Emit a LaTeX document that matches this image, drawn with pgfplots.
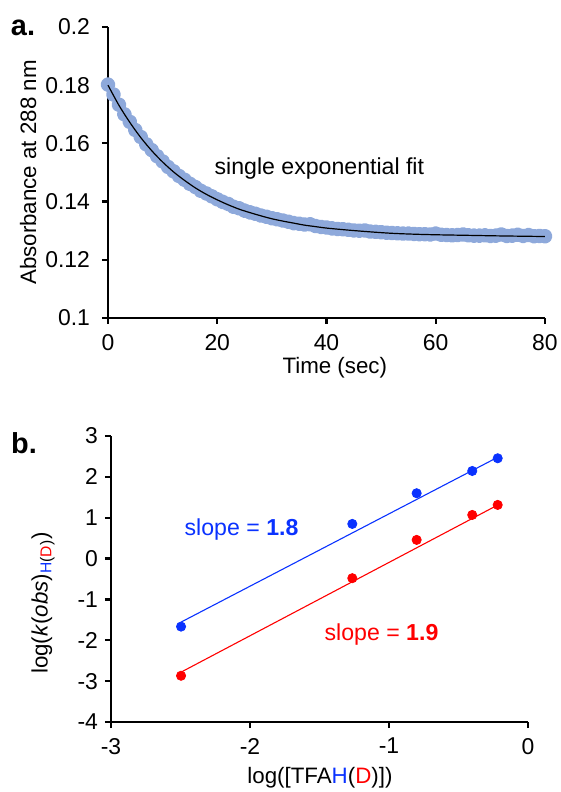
\documentclass[border=0pt]{standalone}
\usepackage{fontspec}
\setmainfont{Liberation Sans}
\usepackage{pgfplots}
\pgfplotsset{compat=1.18}
\definecolor{datablue}{RGB}{142,169,219}
\definecolor{hblue}{RGB}{10,50,255}
\definecolor{dred}{RGB}{255,0,0}
\pgfplotsset{
  panel/.style={
    scale only axis, axis lines=left, axis line style={line width=1.2bp,-},
    tick style={line width=1.1bp,black}, tick align=outside, major tick length=3bp,
    enlargelimits=false, clip=false, clip marker paths=true,
    tick label style={font=\fontsize{11.5}{13}\selectfont},
    xticklabel style={yshift=-1.5bp},
    label style={font=\fontsize{11.2}{13}\selectfont},
  },
}
\begin{document}
\begin{tikzpicture}
\path[use as bounding box] (0,0) rectangle (280.5bp,396bp);

% a. absorbance trace
\begin{axis}[panel, at={(54bp,237bp)}, anchor=south west,
  width=218.5bp, height=145.5bp,
  xmin=0, xmax=80, ymin=0.1, ymax=0.2,
  xtick={0,20,40,60,80}, xticklabels={0,20,40,60,80},
  ytick={0.1,0.12,0.14,0.16,0.18,0.2},
  yticklabels={0.1,0.12,0.14,0.16,0.18,0.2},
  yticklabel style={xshift=-2.5bp},
  xlabel={Time (sec)}, ylabel={Absorbance at 288 nm},
  xlabel style={at={(axis description cs:0.519,-0.172)}, anchor=center},
  ylabel style={at={(axis description cs:-0.183,0.5)}, anchor=center},
]
\addplot[datablue, line width=3.4bp, line join=round, line cap=round,
  mark=*, mark size=2bp, mark options={draw=none, fill=datablue}] coordinates {
(0,0.1802)(1,0.1768)(2,0.1733)(3,0.1700)(4,0.1674)(5,0.1646)(6,0.1622)(7,0.1597)
(8,0.1577)(9,0.1556)(10,0.1538)(11,0.1519)(12,0.1504)(13,0.1488)(14,0.1475)(15,0.1461)
(16,0.1450)(17,0.1437)(18,0.1428)(19,0.1418)(20,0.1408)(21,0.1399)(22,0.1392)(23,0.1382)
(24,0.1377)(25,0.1369)(26,0.1363)(27,0.1358)(28,0.1352)(29,0.1348)(30,0.1343)(31,0.1339)
(32,0.1335)(33,0.1331)(34,0.1326)(35,0.1324)(36,0.1321)(37,0.1322)(38,0.1316)(39,0.1313)
(40,0.1311)(41,0.1308)(42,0.1306)(43,0.1305)(44,0.1303)(45,0.1301)(46,0.1300)(47,0.1301)
(48,0.1297)(49,0.1296)(50,0.1295)(51,0.1293)(52,0.1292)(53,0.1291)(54,0.1290)(55,0.1290)
(56,0.1289)(57,0.1288)(58,0.1288)(59,0.1287)(60,0.1290)(61,0.1286)(62,0.1285)(63,0.1284)
(64,0.1285)(65,0.1287)(66,0.1284)(67,0.1283)(68,0.1283)(69,0.1284)(70,0.1282)(71,0.1283)
(72,0.1287)(73,0.1282)(74,0.1283)(75,0.1286)(76,0.1282)(77,0.1285)(78,0.1281)(79,0.1282)
(80,0.1281)};
\addplot[black, line width=0.6bp, smooth] coordinates {
(0,0.1800)(2,0.1731)(4,0.1672)(6,0.1620)(8,0.1575)(10,0.1536)(12,0.1502)(14,0.1473)
(16,0.1447)(18,0.1425)(20,0.1406)(22,0.1389)(24,0.1374)(26,0.1362)(28,0.1351)(30,0.1341)
(32,0.1333)(34,0.1326)(36,0.1319)(38,0.1314)(40,0.1309)(44,0.1302)(48,0.1296)(52,0.1291)
(56,0.1288)(60,0.1286)(66,0.1284)(72,0.1282)(80,0.1280)};
\node[font=\fontsize{11.6}{13}\selectfont] at (axis cs:38.7,0.1515) {single exponential fit};
\end{axis}

% b. log-log plot
\begin{axis}[panel, at={(55.5bp,35bp)}, anchor=south west,
  width=208.5bp, height=143bp,
  xmin=-3, xmax=0, ymin=-4, ymax=3,
  xtick={-3,-2,-1,0}, xticklabels={-3,-2,-1,0},
  ytick={-4,-3,-2,-1,0,1,2,3}, yticklabels={-4,-3,-2,-1,0,1,2,3},
  xlabel={log([TFA\textcolor{hblue}{H}(\textcolor{dred}{D})])},
  ylabel={log(\textit{k}(\textit{obs})\textsubscript{\textcolor{hblue}{H}(\textcolor{dred}{D})})},
  xlabel style={at={(axis description cs:0.501,-0.196)}, anchor=center},
  ylabel style={at={(axis description cs:-0.163,0.416)}, anchor=center},
]
\addplot[hblue, line width=0.55bp] coordinates {(-2.496,-1.555)(-0.218,2.48)};
\addplot[dred, line width=0.55bp] coordinates {(-2.496,-2.78)(-0.218,1.31)};
\addplot[only marks, mark=*, mark size=2.3bp, hblue] coordinates {
(-2.496,-1.665)(-1.264,0.848)(-0.801,1.599)(-0.401,2.144)(-0.218,2.455)};
\addplot[only marks, mark=*, mark size=2.3bp, dred] coordinates {
(-2.496,-2.868)(-1.264,-0.48)(-0.801,0.457)(-0.401,1.068)(-0.218,1.313)};
\node[hblue, font=\fontsize{11.6}{13}\selectfont] at (axis cs:-2.061,0.702) {slope = \textbf{1.8}};
\node[dred, font=\fontsize{11.6}{13}\selectfont] at (axis cs:-1.054,-1.866) {slope = \textbf{1.9}};
\end{axis}

\node[font=\fontsize{14.5}{16}\selectfont\bfseries] at (11.5bp,382bp) {a.};
\node[font=\fontsize{14.5}{16}\selectfont\bfseries] at (12bp,174.5bp) {b.};
\end{tikzpicture}
\end{document}
